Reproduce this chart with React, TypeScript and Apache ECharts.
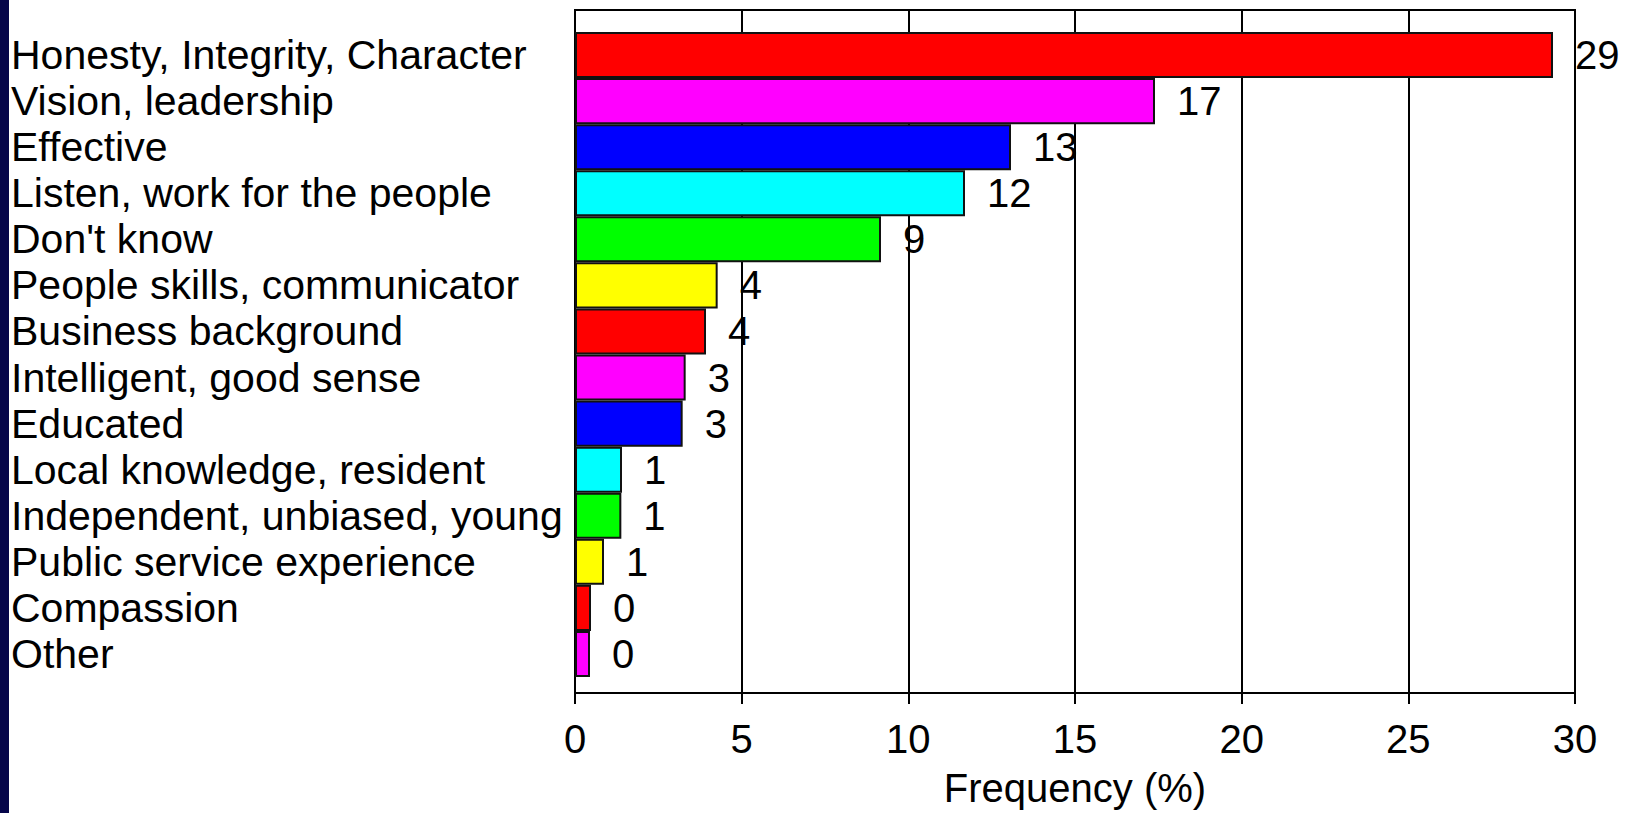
import React, { useEffect, useRef } from "react";
import * as echarts from "echarts";

const categories = [
  "Honesty, Integrity, Character",
  "Vision, leadership",
  "Effective",
  "Listen, work for the people",
  "Don't know",
  "People skills, communicator",
  "Business background",
  "Intelligent, good sense",
  "Educated",
  "Local knowledge, resident",
  "Independent, unbiased, young",
  "Public service experience",
  "Compassion",
  "Other",
];

const frequency = [29.34, 17.4, 13.08, 11.7, 9.18, 4.28, 3.93, 3.32, 3.23, 1.41, 1.39, 0.87, 0.48, 0.45];
const shownLabels = ["29", "17", "13", "12", "9", "4", "4", "3", "3", "1", "1", "1", "0", "0"];
const barColors = ["#FF0000", "#FF00FF", "#0000FF", "#00FFFF", "#00FF00", "#FFFF00"];
const axisName = "Frequency (%)";
const xMin = 0;
const xMax = 30;
const xStep = 5;

const FONT = "'Liberation Sans', Arial, sans-serif";

export default function App() {
  const ref = useRef<HTMLDivElement>(null);

  useEffect(() => {
    document.body.style.margin = "0";
    if (!ref.current) return;
    const chart = echarts.init(ref.current, undefined, { renderer: "svg" });
    chart.setOption({
      animation: false,
      backgroundColor: "#ffffff",
      textStyle: { fontFamily: FONT },
      graphic: [
        {
          type: "rect",
          left: 0,
          top: 0,
          shape: { width: 9, height: 813 },
          style: { fill: "#05054a" },
          silent: true,
        },
      ],
      grid: [
        {
          left: 575,
          right: 56,
          top: 10,
          height: 689,
          show: true,
          borderColor: "#000",
          borderWidth: 2,
          backgroundColor: "transparent",
        },
        {
          left: 575,
          right: 56,
          top: 32,
          height: 645,
        },
      ],
      xAxis: [
        {
          type: "value",
          gridIndex: 0,
          min: xMin,
          max: xMax,
          interval: xStep,
          axisLine: { show: true, lineStyle: { color: "#000", width: 2 } },
          axisTick: { show: true, length: 11, lineStyle: { color: "#000", width: 2 } },
          splitLine: { show: true, lineStyle: { color: "#000", width: 2 } },
          axisLabel: { color: "#000", fontSize: 40, fontFamily: FONT, margin: 26 },
          name: axisName,
          nameLocation: "middle",
          nameGap: 75,
          nameTextStyle: { color: "#000", fontSize: 40, fontFamily: FONT },
        },
        {
          type: "value",
          gridIndex: 1,
          min: xMin,
          max: xMax,
          show: false,
        },
      ],
      yAxis: [
        {
          type: "value",
          gridIndex: 0,
          min: 0,
          max: 1,
          axisLine: { show: true, onZero: false, lineStyle: { color: "#000", width: 2 } },
          axisTick: { show: false },
          axisLabel: { show: false },
          splitLine: { show: false },
        },
        {
          type: "category",
          gridIndex: 1,
          data: categories,
          inverse: true,
          axisLine: { show: false },
          axisTick: { show: false },
          splitLine: { show: false },
          axisLabel: {
            interval: 0,
            align: "left",
            margin: 564,
            color: "#000",
            fontSize: 41,
            fontFamily: FONT,
          },
        },
      ],
      series: [
        {
          type: "bar",
          xAxisIndex: 1,
          yAxisIndex: 1,
          barCategoryGap: 0,
          barWidth: "100%",
          data: frequency.map((v, i) => ({
            value: v,
            itemStyle: { color: barColors[i % barColors.length] },
          })),
          itemStyle: { borderColor: "#111", borderWidth: 2 },
          label: {
            show: true,
            position: "right",
            distance: 22,
            color: "#000",
            fontSize: 40,
            fontFamily: FONT,
            formatter: (p: any) => shownLabels[p.dataIndex],
          },
          z: 3,
        },
      ],
    });
    return () => chart.dispose();
  }, []);

  return <div ref={ref} style={{ width: 1631, height: 813, background: "#fff" }} />;
}
